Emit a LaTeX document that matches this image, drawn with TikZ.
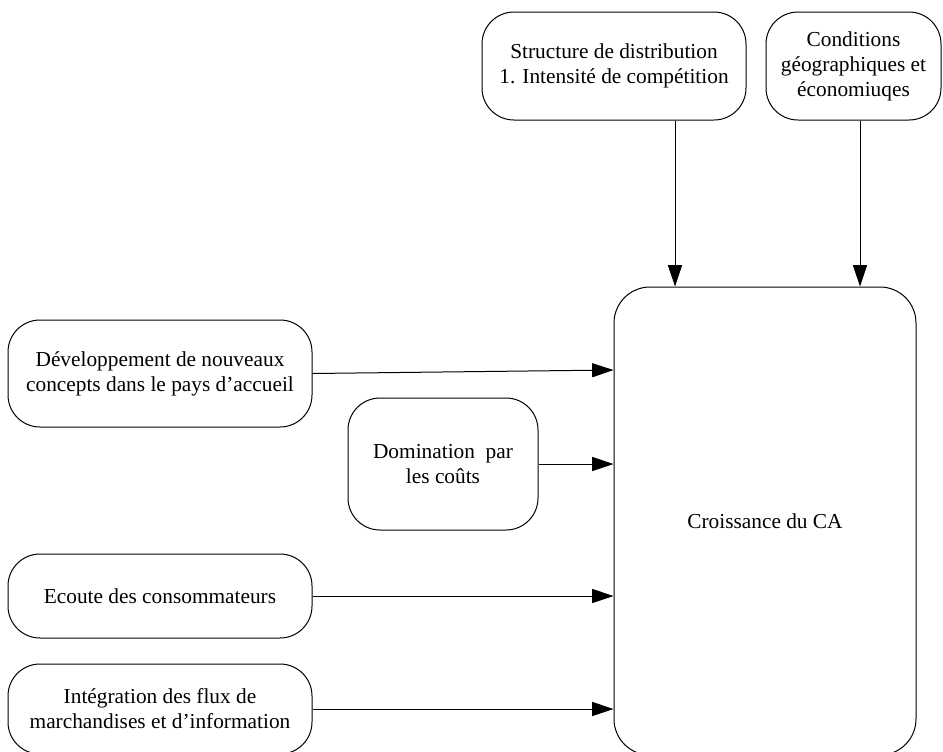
\documentclass[tikz,border=0pt]{standalone}
\usepackage{fontspec}
\setmainfont{Liberation Serif}
\usetikzlibrary{arrows.meta}
\begin{document}
\begin{tikzpicture}[x=0.75pt,y=-0.75pt,
  box/.style={draw, line width=0.75pt, rounded corners=24pt, align=center,
    font=\fontsize{16}{18.75}\selectfont, inner sep=0pt},
  arr/.style={line width=0.75pt, -{Triangle[length=16pt,width=10.5pt]}}]
\useasboundingbox (0,0) rectangle (943,751);
\node[box, minimum width=198pt, minimum height=81pt] (s) at (614,66)
  {Structure de distribution\\1. Intensité de compétition};
\node[box, minimum width=131.25pt, minimum height=81pt] (c) at (853.5,66)
  {Conditions\\géographiques et\\économiuqes};
\node[box, rounded corners=27pt, minimum width=226.5pt, minimum height=351pt] (big) at (765,521)
  {Croissance du CA};
\node[box, minimum width=228pt, minimum height=80.25pt] (d) at (160,373.5)
  {Développement de nouveaux\\concepts dans le pays d’accueil};
\node[box, minimum width=142.5pt, minimum height=99pt] (dom) at (443,464)
  {Domination\ \ par\\les coûts};
\node[box, minimum width=228pt, minimum height=63pt] (e) at (160,596)
  {Ecoute des consommateurs};
\node[box, minimum width=228pt, minimum height=67.5pt] (i) at (160,709)
  {Intégration des flux de\\marchandises et d’information};
\coordinate (sx) at (675,0);
\coordinate (cx) at (860,0);
\coordinate (dy) at (0,370);
\draw[arr] (s.south -| sx) -- (big.north -| sx);
\draw[arr] (c.south -| cx) -- (big.north -| cx);
\draw[arr] (d.east) -- (big.west |- dy);
\draw[arr] (dom.east) -- (dom.east -| big.west);
\draw[arr] (e.east) -- (e.east -| big.west);
\draw[arr] (i.east) -- (i.east -| big.west);
\end{tikzpicture}
\end{document}
